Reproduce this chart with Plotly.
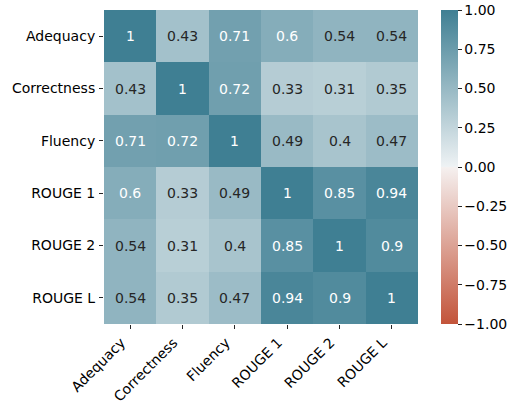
import plotly.graph_objects as go

# Correlation matrix between human judgements and ROUGE scores
labels = ["Adequacy", "Correctness", "Fluency", "ROUGE 1", "ROUGE 2", "ROUGE L"]
corr = [
    [1.00, 0.43, 0.71, 0.60, 0.54, 0.54],
    [0.43, 1.00, 0.72, 0.33, 0.31, 0.35],
    [0.71, 0.72, 1.00, 0.49, 0.40, 0.47],
    [0.60, 0.33, 0.49, 1.00, 0.85, 0.94],
    [0.54, 0.31, 0.40, 0.85, 1.00, 0.90],
    [0.54, 0.35, 0.47, 0.94, 0.90, 1.00],
]
cbar_ticks = [-1.0, -0.75, -0.5, -0.25, 0.0, 0.25, 0.5, 0.75, 1.0]

# Diverging red -> light gray -> teal palette
colorscale = [
    [0.0, "rgb(195,84,58)"],
    [0.498, "rgb(245,240,239)"],
    [0.5, "rgb(242,242,242)"],
    [0.502, "rgb(238,242,244)"],
    [1.0, "rgb(63,127,147)"],
]

FONT = "DejaVu Sans"
FS = 14

fig = go.Figure(
    go.Heatmap(
        z=corr,
        x=labels,
        y=labels,
        zmin=-1,
        zmax=1,
        colorscale=colorscale,
        colorbar=dict(
            x=(441 - 104) / 314,
            xanchor="left",
            xref="paper",
            xpad=0,
            y=0.5,
            yanchor="middle",
            ypad=0,
            len=1.0,
            lenmode="fraction",
            thickness=17,
            thicknessmode="pixels",
            outlinewidth=0,
            ticks="outside",
            ticklen=4,
            tickwidth=1,
            tickcolor="#262626",
            tickvals=cbar_ticks,
            ticktext=[f"{v:.2f}".replace("-", "\u2212") for v in cbar_ticks],
            tickfont=dict(family=FONT, size=FS, color="black"),
        ),
        hoverongaps=False,
    )
)

# Cell annotations: light text on dark cells, dark text on light cells
for i, row_name in enumerate(labels):
    for j, col_name in enumerate(labels):
        v = corr[i][j]
        fig.add_annotation(
            x=col_name,
            y=row_name,
            text=format(v, ".2g"),
            showarrow=False,
            font=dict(family=FONT, size=FS,
                      color="white" if v >= 0.58 else "#262626"),
        )

fig.update_layout(
    width=513,
    height=403,
    margin=dict(l=104, r=95, t=10, b=79, autoexpand=False),
    paper_bgcolor="white",
    plot_bgcolor="white",
    font=dict(family=FONT, size=FS, color="black"),
    xaxis=dict(
        tickangle=-45,
        ticks="outside",
        ticklen=4,
        tickcolor="#262626",
        ticklabelshift=-9,
        showgrid=False,
        zeroline=False,
        showline=False,
        automargin=False,
        tickfont=dict(family=FONT, size=FS, color="black"),
    ),
    yaxis=dict(
        autorange="reversed",
        ticks="outside",
        ticklen=4,
        tickcolor="#262626",
        ticklabelstandoff=1,
        showgrid=False,
        zeroline=False,
        showline=False,
        automargin=False,
        tickfont=dict(family=FONT, size=FS, color="black"),
    ),
)

fig.write_html("out.html")
